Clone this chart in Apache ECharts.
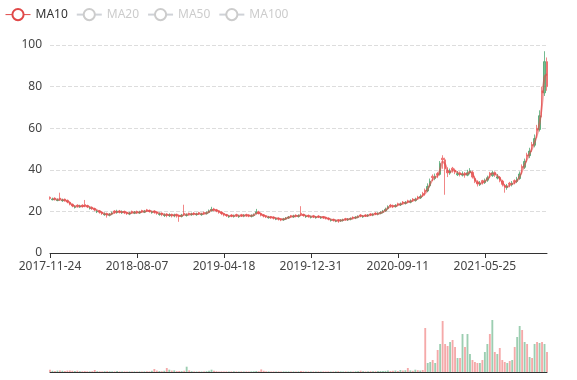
<!DOCTYPE html>
<html><head><meta charset="utf-8">
<script src="https://cdn.jsdelivr.net/npm/echarts@6/dist/echarts.min.js"></script>
<style>html,body{margin:0;padding:0;background:#fff}#main{width:577px;height:380px}</style>
</head><body><div id="main"></div>
<script>
// one sample ≈ one trading week
const dates = [
'2017-11-24','2017-12-01','2017-12-08','2017-12-15','2017-12-22','2017-12-29','2018-01-05','2018-01-12','2018-01-19','2018-01-26',
'2018-02-02','2018-02-09','2018-02-16','2018-02-23','2018-03-02','2018-03-09','2018-03-16','2018-03-23','2018-03-29','2018-04-06',
'2018-04-13','2018-04-20','2018-04-27','2018-05-04','2018-05-11','2018-05-18','2018-05-25','2018-06-01','2018-06-08','2018-06-15',
'2018-06-22','2018-06-29','2018-07-06','2018-07-16','2018-07-27','2018-08-07','2018-08-14','2018-08-21','2018-08-28','2018-09-04',
'2018-09-11','2018-09-18','2018-09-25','2018-10-02','2018-10-09','2018-10-16','2018-10-23','2018-10-30','2018-11-06','2018-11-13',
'2018-11-20','2018-11-27','2018-12-04','2018-12-11','2018-12-18','2018-12-27','2019-01-03','2019-01-10','2019-01-17','2019-01-24',
'2019-01-31','2019-02-07','2019-02-14','2019-02-21','2019-02-28','2019-03-07','2019-03-14','2019-03-21','2019-03-28','2019-04-08',
'2019-04-18','2019-04-25','2019-05-02','2019-05-09','2019-05-16','2019-05-23','2019-05-30','2019-06-06','2019-06-13','2019-06-20',
'2019-06-27','2019-07-05','2019-07-12','2019-07-19','2019-07-26','2019-08-02','2019-08-09','2019-08-16','2019-08-23','2019-08-30',
'2019-09-06','2019-09-13','2019-09-20','2019-09-27','2019-10-04','2019-10-11','2019-10-18','2019-10-25','2019-11-01','2019-11-08',
'2019-11-15','2019-11-22','2019-12-02','2019-12-10','2019-12-20','2019-12-31','2020-01-08','2020-01-15','2020-01-22','2020-01-29',
'2020-02-05','2020-02-12','2020-02-19','2020-02-26','2020-03-04','2020-03-11','2020-03-18','2020-03-25','2020-04-01','2020-04-08',
'2020-04-15','2020-04-22','2020-04-29','2020-05-06','2020-05-13','2020-05-20','2020-05-28','2020-06-04','2020-06-11','2020-06-18',
'2020-06-25','2020-07-02','2020-07-10','2020-07-17','2020-07-24','2020-07-31','2020-08-07','2020-08-14','2020-08-21','2020-08-31',
'2020-09-11','2020-09-18','2020-09-25','2020-10-02','2020-10-09','2020-10-16','2020-10-23','2020-10-30','2020-11-06','2020-11-13',
'2020-11-20','2020-11-27','2020-12-04','2020-12-11','2020-12-18','2020-12-24','2020-12-31','2021-01-08','2021-01-15','2021-01-22',
'2021-01-29','2021-02-05','2021-02-12','2021-02-19','2021-02-26','2021-03-05','2021-03-12','2021-03-19','2021-03-26','2021-04-01',
'2021-04-09','2021-04-16','2021-04-23','2021-05-03','2021-05-13','2021-05-25','2021-06-01','2021-06-08','2021-06-15','2021-06-22',
'2021-06-29','2021-07-07','2021-07-14','2021-07-21','2021-07-28','2021-08-04','2021-08-11','2021-08-18','2021-08-25','2021-09-01',
'2021-09-09','2021-09-16','2021-09-23','2021-09-30','2021-10-07','2021-10-14','2021-10-21','2021-10-28','2021-11-04','2021-11-11',
'2021-11-18'
];
// [open, close, low, high]
const candles = [
[26.8,26.2,25.6,27.2],[25.6,26.0,25.3,26.6],[26.4,25.8,25.2,26.8],[25.2,25.6,24.9,26.2],[26.4,25.8,25.0,29.0],
[25.1,25.5,24.6,26.1],[25.9,25.2,24.7,26.2],[25.3,24.5,23.9,25.7],[24.4,23.5,22.9,24.8],[23.4,22.6,22.0,23.8],
[21.9,22.3,21.4,22.9],[23.0,22.5,21.9,23.4],[22.1,22.6,21.7,23.2],[23.0,22.4,21.8,23.4],[23.3,22.8,22.0,25.5],
[22.8,22.2,21.6,23.2],[21.4,21.8,20.9,22.4],[22.0,21.3,20.7,22.4],[21.4,20.8,20.1,21.8],[19.8,20.2,19.2,20.8],
[20.3,19.6,18.9,20.7],[19.7,19.0,18.3,20.0],[18.4,18.8,17.9,19.5],[19.0,18.3,17.0,19.4],[18.1,18.6,17.6,19.2],
[18.7,19.2,18.2,19.9],[20.2,19.6,18.9,20.6],[19.4,20.0,18.9,20.8],[20.2,19.6,19.0,20.7],[19.3,19.8,18.8,20.5],
[20.0,19.4,18.7,20.4],[19.6,19.0,18.3,19.9],[18.7,19.2,18.2,19.8],[20.0,19.5,18.9,20.4],[19.1,19.6,18.7,20.2],
[20.0,19.4,18.8,20.4],[19.2,19.7,18.8,20.3],[20.4,19.9,19.3,20.8],[19.6,20.1,19.2,20.7],[20.8,20.3,19.7,21.2],
[20.5,20.0,19.4,20.9],[19.4,19.8,18.9,20.4],[20.2,19.6,18.9,20.6],[19.8,19.2,18.4,20.1],[18.5,18.9,17.9,19.5],
[19.2,18.6,17.7,19.5],[18.0,18.4,17.3,19.0],[18.8,18.2,17.2,19.2],[17.9,18.4,17.3,19.1],[18.6,18.0,17.1,18.9],
[17.8,18.3,17.2,18.9],[18.6,18.0,17.0,18.9],[18.2,17.6,15.0,18.5],[17.6,18.2,17.1,18.8],[19.1,18.6,17.9,23.2],
[18.0,18.4,17.5,19.0],[19.1,18.6,18.0,19.4],[18.4,18.8,17.9,19.4],[19.2,18.7,18.1,19.6],[18.4,18.8,17.9,19.4],
[19.4,18.9,18.3,19.8],[18.4,18.8,17.9,19.3],[19.5,19.0,18.4,19.9],[18.9,19.4,18.5,20.0],[19.5,20.2,19.1,20.9],
[20.3,21.0,19.9,22.2],[21.2,20.6,20.0,21.7],[20.8,20.2,19.6,21.2],[20.3,19.6,18.9,20.6],[19.7,19.0,18.2,20.0],
[19.0,18.4,17.6,19.3],[18.5,18.0,17.3,18.8],[17.3,17.7,16.9,18.3],[18.3,17.8,17.2,18.7],[17.5,17.9,17.0,18.5],
[18.5,18.0,17.4,18.9],[17.4,17.8,16.9,18.4],[18.4,17.9,17.3,18.8],[17.7,18.1,17.2,18.7],[18.5,18.0,17.4,18.9],
[18.3,17.8,17.2,18.7],[17.6,18.0,17.1,18.6],[18.0,18.4,17.5,19.0],[19.0,19.8,18.5,21.2],[19.8,19.0,18.5,20.3],
[19.0,18.2,17.6,19.3],[18.4,17.8,17.1,18.7],[17.9,17.4,16.8,18.2],[16.9,17.3,16.5,17.8],[17.5,17.0,16.4,17.8],
[17.3,16.8,16.1,17.6],[16.2,16.6,15.8,17.1],[16.8,16.3,15.6,17.1],[16.5,16.0,15.3,16.8],[15.9,16.4,15.5,16.9],
[16.3,16.8,15.9,17.3],[16.8,17.3,16.4,17.8],[17.9,17.6,17.0,18.3],[17.3,17.8,16.9,18.4],[18.2,17.7,17.1,18.6],
[17.5,18.0,17.0,18.6],[19.1,18.6,17.7,22.5],[18.6,18.0,17.4,18.9],[17.4,17.8,16.9,18.3],[18.1,17.6,17.0,18.5],
[17.1,17.5,16.6,18.0],[17.9,17.4,16.8,18.3],[16.9,17.3,16.5,17.8],[17.8,17.4,16.8,18.2],[16.8,17.2,16.4,17.7],
[17.5,17.0,16.4,17.8],[17.2,16.7,16.1,17.5],[16.8,16.3,15.7,17.1],[15.6,16.0,15.1,16.5],[16.2,15.7,15.1,16.5],
[15.2,15.6,14.8,16.1],[16.0,15.5,14.5,16.3],[15.4,15.8,14.9,16.3],[15.6,16.0,15.1,16.5],[16.5,16.1,15.5,16.9],
[15.9,16.3,15.4,16.8],[16.2,16.6,15.7,17.1],[17.2,16.8,16.2,17.6],[16.8,17.2,16.3,17.7],[17.1,17.6,16.7,18.1],
[18.3,17.9,17.2,18.7],[17.3,17.7,16.9,18.2],[18.3,17.9,17.3,18.7],[17.8,18.2,17.3,18.7],[18.8,18.4,17.8,19.2],
[18.2,18.6,17.7,19.1],[19.2,18.8,18.2,19.6],[18.6,19.0,18.1,19.6],[19.0,19.5,18.6,20.1],[19.5,20.0,19.0,20.7],
[20.2,21.0,19.8,21.8],[21.3,22.2,20.9,22.9],[23.0,22.6,21.9,23.6],[22.8,22.3,21.6,23.3],[22.3,22.8,21.8,23.5],
[23.7,23.3,22.5,24.2],[23.1,23.6,22.6,24.3],[24.5,24.0,23.3,25.0],[23.8,24.3,23.3,25.0],[25.1,24.6,23.9,25.6],
[24.4,25.0,23.9,25.8],[25.9,25.4,24.6,26.4],[25.2,25.8,24.7,26.6],[26.9,26.4,25.6,27.5],[26.5,27.2,26.0,28.2],
[28.6,28.0,27.0,29.4],[30.2,29.5,27.6,31.0],[29.8,32.0,29.2,33.5],[32.3,34.5,31.5,35.8],[36.9,36.2,34.6,37.8],
[35.8,36.8,35.0,38.2],[38.2,37.5,36.0,39.0],[37.8,43.0,37.2,44.2],[45.6,44.8,40.5,47.0],[44.8,40.5,28.0,45.8],
[39.6,38.5,36.5,41.2],[38.4,39.5,37.6,40.6],[40.8,40.0,38.6,41.4],[39.8,39.0,37.9,40.6],[37.6,38.2,37.0,39.4],
[38.6,37.8,36.8,39.2],[37.4,38.0,36.8,39.2],[38.4,37.6,36.2,38.9],[37.4,38.6,36.9,40.0],[38.6,39.5,37.8,40.8],
[38.8,36.5,35.8,39.6],[35.8,34.5,33.6,36.8],[34.2,33.2,32.0,35.0],[32.8,33.6,32.2,34.6],[34.8,34.0,32.9,35.2],
[33.8,34.8,33.2,35.8],[35.0,36.2,34.2,37.2],[38.4,37.8,35.9,39.0],[37.2,38.6,36.6,39.6],[38.8,37.6,36.6,39.2],
[36.0,36.6,35.4,38.0],[36.4,35.0,34.0,37.0],[34.6,33.0,32.0,35.2],[32.4,31.5,29.0,33.2],[31.4,32.2,30.4,33.2],
[33.6,33.0,31.6,34.2],[32.8,33.5,32.0,34.6],[34.8,34.2,33.0,35.4],[34.4,35.5,33.6,36.6],[35.8,38.0,35.2,39.2],
[41.6,41.0,37.8,42.6],[41.2,44.0,40.4,45.4],[47.2,46.5,43.6,48.2],[46.8,49.0,45.6,50.6],[52.2,51.5,48.6,53.4],
[51.8,55.0,50.8,57.0],[59.8,59.0,55.2,61.6],[59.4,66.0,58.4,68.6],[78.0,77.0,65.2,80.0],[77.0,92.0,75.5,97.0],
[92.0,80.0,78.0,94.0]
];
// volume per sample (relative units)
const volumes = [
2.3,1.2,1.0,1.4,1.6,1.2,1.0,1.4,1.5,1.2,
1.0,1.3,0.8,0.7,0.9,0.7,0.6,0.8,2.0,0.8,
0.7,0.6,0.8,0.9,0.7,0.6,0.6,1.0,0.6,0.5,
0.6,0.5,0.6,0.5,0.6,0.5,0.6,0.5,0.6,0.7,
0.6,1.2,3.0,1.4,1.0,0.8,1.2,4.0,2.3,1.4,
1.6,0.9,1.0,0.9,1.2,5.3,1.6,0.8,0.6,0.5,
0.6,0.5,0.6,0.8,1.2,2.3,1.2,0.8,0.6,0.6,
0.5,0.6,0.5,0.6,0.7,0.6,0.5,0.6,0.5,0.6,
0.5,0.6,0.7,1.0,0.8,2.6,1.2,0.7,0.6,0.5,
0.6,0.5,0.6,0.5,0.6,0.5,0.6,0.5,0.6,0.5,
0.6,0.9,0.7,0.5,0.6,0.5,0.6,0.5,0.6,0.5,
0.6,0.5,0.6,0.5,0.6,0.7,0.8,0.6,0.5,0.6,
0.5,0.6,0.5,0.7,0.9,1.3,0.8,0.6,0.7,0.8,
0.7,0.8,0.9,1.0,0.9,1.1,1.4,1.0,1.2,1.5,
1.0,2.0,1.5,1.8,4.0,1.6,1.2,2.3,1.8,1.5,
2.0,44,9,10,12,9,22,28,51,28,
26,30,32,25,14,14,38,25,38,18,
12,10,9,9,12,20,28,38,52,20,
18,24,12,10,9,11,12,25,35,46,
42,30,28,15,14,28,30,29,30,28,20
];
const maNames = ['MA10', 'MA20', 'MA50', 'MA100'];
const maWindows = [2, 4, 10, 20]; // 10/20/50/100 trading days, one sample ≈ 5 days
const priceMin = 0, priceMax = 100, priceStep = 20;
const volMax = 60;

const upColor = '#3a9e63', downColor = '#eb5454';

function calcMA(n) {
  return candles.map((c, i) => {
    if (i < n - 1) return '-';
    let s = 0;
    for (let k = i - n + 1; k <= i; k++) s += candles[k][1];
    return +(s / n).toFixed(3);
  });
}

const chart = echarts.init(document.getElementById('main'), null, { renderer: 'canvas' });
const font = 'Noto Sans';
const maColors = ['#e04848', '#5470c6', '#91cc75', '#fac858'];

chart.setOption({
  animation: false,
  textStyle: { fontFamily: font },
  legend: {
    data: maNames,
    left: 0, top: 3,
    selected: { MA20: false, MA50: false, MA100: false },
    textStyle: { color: '#333', fontSize: 12, fontFamily: font },
    inactiveColor: '#ccc',
    lineStyle: { width: 1, opacity: 1 },
    itemStyle: { borderWidth: 1 }
  },
  grid: [
    { left: 50, right: 30, top: 45, height: 208 },
    { left: 50, right: 30, top: 312, height: 60 }
  ],
  xAxis: [
    {
      type: 'category', data: dates, gridIndex: 0, boundaryGap: false,
      axisLine: { lineStyle: { color: '#333' } },
      axisTick: { show: true, interval: 34, lineStyle: { color: '#333' } },
      axisLabel: { interval: 34, color: '#444', fontSize: 12, fontFamily: font, margin: 8 },
      splitLine: { show: false }
    },
    {
      type: 'category', data: dates, gridIndex: 1, boundaryGap: false,
      axisLine: { lineStyle: { color: '#333' } },
      axisTick: { show: false }, axisLabel: { show: false }, splitLine: { show: false }
    }
  ],
  yAxis: [
    {
      type: 'value', gridIndex: 0, min: priceMin, max: priceMax, interval: priceStep,
      axisLine: { show: false }, axisTick: { show: false },
      axisLabel: { color: '#444', fontSize: 12, fontFamily: font, margin: 8 },
      splitLine: { lineStyle: { type: 'dashed', color: '#ddd' } }
    },
    {
      type: 'value', gridIndex: 1, min: 0, max: volMax, show: false,
      splitLine: { show: false }
    }
  ],
  series: [
    {
      name: 'K', type: 'candlestick', data: candles, xAxisIndex: 0, yAxisIndex: 0,
      barWidth: '80%',
      itemStyle: {
        color: upColor, color0: downColor,
        borderColor: upColor, borderColor0: downColor, opacity: 0.7
      }
    },
    ...maNames.map((name, k) => ({
      name, type: 'line', data: calcMA(maWindows[k]), xAxisIndex: 0, yAxisIndex: 0,
      showSymbol: false, smooth: true, color: maColors[k],
      itemStyle: { borderWidth: 1 },
      lineStyle: { width: 2, opacity: 0.6 }
    })),
    {
      name: 'Volume', type: 'bar', xAxisIndex: 1, yAxisIndex: 1,
      barCategoryGap: '25%',
      data: volumes.map((v, i) => ({
        value: v,
        itemStyle: { color: candles[i][1] >= candles[i][0] ? upColor : downColor }
      })),
      itemStyle: { opacity: 0.5 }
    }
  ]
});
</script></body></html>
